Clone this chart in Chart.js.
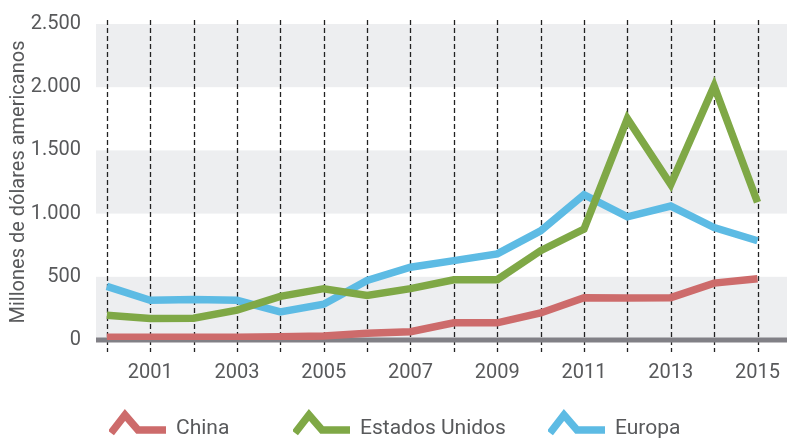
<!DOCTYPE html>
<html>
<head>
<meta charset="utf-8">
<script src="https://cdn.jsdelivr.net/npm/chart.js@4"></script>
<style>
    body { margin: 0; background: #fff; }
    .wrap { position: relative; width: 787px; height: 439px; font-family: Roboto, sans-serif; color: #58595b; }
    .legend-item { position: absolute; top: 409px; height: 30px; display: flex; align-items: center; font-size: 21px; }
    .legend-item svg { margin-right: 10px; }
    .legend-item span { position: relative; top: 3px; }
</style>
</head>
<body>
<div class="wrap">
    <canvas id="inversionChart" width="787" height="439"></canvas>
    <div id="legend"></div>
</div>
<script>
// Years and values (millions of USD)
var years = [2000, 2001, 2002, 2003, 2004, 2005, 2006, 2007, 2008, 2009, 2010, 2011, 2012, 2013, 2014, 2015];
var china = [22, 21, 21, 21, 26, 31, 53, 65, 136, 136, 214, 335, 332, 335, 450, 484];
var estadosUnidos = [196, 170, 173, 236, 345, 406, 353, 406, 477, 477, 707, 877, 1751, 1230, 2010, 1090];
var europa = [424, 314, 320, 314, 222, 283, 471, 576, 628, 681, 864, 1150, 974, 1060, 890, 785];
var yTicks = [0, 500, 1000, 1500, 2000, 2500];

var seriesNames = ['China', 'Estados Unidos', 'Europa'];
var seriesColors = ['#cd6b6b', '#7fa846', '#5dbbe4'];
var seriesValues = [china, estadosUnidos, europa];

// Gray bands, zero bar and dashed year lines
var backdrop = {
    id: 'backdrop',
    beforeDatasetsDraw: function (chart) {
        var ctx = chart.ctx;
        var area = chart.chartArea;
        var x = chart.scales.x;
        var y = chart.scales.y;
        ctx.save();
        ctx.fillStyle = '#edeef0';
        for (var i = 0; i < yTicks.length - 1; i += 2) {
            var top = y.getPixelForValue(yTicks[i + 1]);
            var bottom = y.getPixelForValue(yTicks[i]);
            ctx.fillRect(area.left, top, area.right - area.left, bottom - top);
        }
        ctx.strokeStyle = '#222';
        ctx.lineWidth = 1.3;
        ctx.setLineDash([5, 3]);
        years.forEach(function (yr) {
            var px = Math.round(x.getPixelForValue(yr)) + 0.5;
            ctx.beginPath();
            ctx.moveTo(px, area.top - 4);
            ctx.lineTo(px, area.bottom + 12);
            ctx.stroke();
        });
        ctx.setLineDash([]);
        ctx.fillStyle = '#818086';
        var zero = y.getPixelForValue(0);
        ctx.fillRect(area.left, zero - 2.5, area.right - area.left, 5);
        ctx.restore();
    }
};

var ctx = document.getElementById('inversionChart').getContext('2d');
var inversionChart = new Chart(ctx, {
    type: 'line',
    data: {
        datasets: seriesNames.map(function (name, i) {
            return {
                label: name,
                data: years.map(function (yr, j) { return { x: yr, y: seriesValues[i][j] }; }),
                borderColor: seriesColors[i],
                borderWidth: 7.5,
                borderJoinStyle: 'miter',
                borderCapStyle: 'butt',
                pointRadius: 0,
                tension: 0,
                fill: false
            };
        })
    },
    options: {
        responsive: false,
        animation: false,
        layout: { padding: { top: 24, right: 0, bottom: 59, left: 0 } },
        plugins: {
            legend: { display: false },
            tooltip: { enabled: false }
        },
        scales: {
            x: {
                type: 'linear',
                min: 1999.75,
                max: 2015.68,
                grid: { display: false },
                border: { display: false },
                afterBuildTicks: function (scale) {
                    scale.ticks = years.map(function (yr) { return { value: yr }; });
                },
                afterFit: function (scale) {
                    scale.height = 40;
                    scale.paddingLeft = 0;
                    scale.paddingRight = 0;
                },
                ticks: {
                    autoSkip: false,
                    maxRotation: 0,
                    padding: 13,
                    color: '#58595b',
                    font: { family: 'Roboto', size: 20 },
                    callback: function (v) { return v % 2 === 1 ? String(v) : ''; }
                }
            },
            y: {
                min: 0,
                max: 2500,
                grid: { display: false },
                border: { display: false },
                afterBuildTicks: function (scale) {
                    scale.ticks = yTicks.map(function (v) { return { value: v }; });
                },
                afterFit: function (scale) { scale.width = 96; },
                ticks: {
                    padding: 7,
                    color: '#58595b',
                    font: { family: 'Roboto', size: 20 },
                    callback: function (v) { return v.toLocaleString('de-DE'); }
                },
                title: {
                    display: true,
                    text: 'Millones de dólares americanos',
                    color: '#58595b',
                    font: { family: 'Roboto', size: 20 },
                    padding: { top: 7, bottom: 0 }
                }
            }
        }
    },
    plugins: [backdrop]
});

// HTML legend with the chevron icons
var legendX = [109, 293, 548];
var legend = document.getElementById('legend');
seriesNames.forEach(function (name, i) {
    var item = document.createElement('div');
    item.className = 'legend-item';
    item.style.left = legendX[i] + 'px';
    item.innerHTML = '<svg width="57" height="30" viewBox="0 0 57 30">' +
        '<polyline points="2,24 16,6 29,21 57,21" fill="none" stroke="' + seriesColors[i] +
        '" stroke-width="7.5" stroke-linejoin="miter"/></svg><span>' + name + '</span>';
    legend.appendChild(item);
});
</script>
</body>
</html>
